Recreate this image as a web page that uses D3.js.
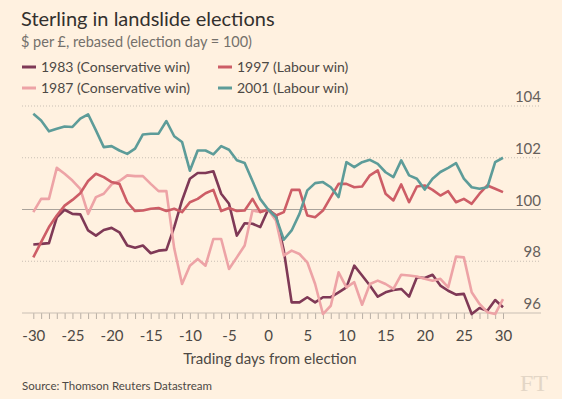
<!DOCTYPE html>
<html>
<head>
<meta charset="utf-8">
<script src="https://cdn.jsdelivr.net/npm/d3@7"></script>
<style>
  html, body { margin: 0; padding: 0; background: #fff1e0; }
  svg { display: block; font-family: Lato, "Open Sans", sans-serif; }
</style>
</head>
<body>
<div id="chart"></div>
<script>
// DATA
const days = d3.range(-30, 31);

const series1983 = [98.65, 98.67, 98.70, 99.70, 99.99, 99.83, 99.81, 99.19, 98.99, 99.21,
  99.29, 99.12, 98.61, 98.52, 98.61, 98.31, 98.41, 98.44, 99.32, 100.35,
  101.19, 101.41, 101.41, 101.48, 100.61, 100.22, 98.99, 99.47, 99.45, 99.32,
  100.00,
  99.77, 98.41, 96.41, 96.41, 96.61, 96.41, 96.61, 96.61, 96.80, 96.99,
  97.83, 97.45, 97.06, 96.63, 96.80, 96.89, 96.93, 96.63, 97.38, 97.35,
  97.48, 97.06, 96.86, 96.71, 96.74, 95.96, 96.19, 96.09, 96.50, 96.22];

const series1987 = [99.90, 100.41, 100.41, 101.61, 101.38, 101.12, 100.80, 99.83, 100.48, 100.61,
  100.97, 101.10, 101.32, 101.29, 101.29, 100.99, 100.71, 100.71, 98.50, 97.12,
  97.83, 98.09, 97.83, 98.86, 98.86, 97.70, 98.15, 98.61, 99.96, 99.90,
  100.00,
  99.57, 98.22, 98.41, 98.28, 97.96, 97.12, 95.96, 96.28, 97.57, 96.99,
  97.19, 96.32, 97.12, 97.25, 97.12, 96.93, 97.48, 97.45, 97.41, 97.32,
  97.25, 97.32, 96.99, 98.18, 98.15, 96.80, 96.35, 96.03, 95.96, 96.54];

const series1997 = [98.15, 98.74, 99.32, 99.77, 100.15, 100.37, 100.63, 101.10, 101.38, 101.25,
  101.06, 100.99, 100.28, 99.94, 99.96, 100.03, 100.06, 99.94, 100.03, 99.90,
  100.28, 100.41, 100.63, 100.76, 99.94, 100.06, 99.94, 99.96, 100.41, 99.90,
  100.00,
  99.77, 99.90, 100.76, 100.76, 99.77, 99.70, 99.96, 100.48, 100.99, 100.99,
  100.86, 100.89, 101.32, 101.51, 100.61, 100.35, 100.97, 100.28, 100.89, 100.93,
  100.76, 100.54, 100.71, 100.28, 100.41, 100.22, 100.61, 100.93, 100.80, 100.67];

const series2001 = [103.70, 103.44, 103.02, 103.12, 103.21, 103.19, 103.51, 103.68, 103.06, 102.41,
  102.45, 102.28, 102.15, 102.35, 102.90, 102.93, 102.93, 103.42, 102.83, 102.61,
  101.50, 102.28, 102.28, 102.13, 102.45, 102.31, 101.90, 101.80, 101.10, 100.40,
  100.00,
  99.70, 98.83, 99.19, 99.83, 100.74, 101.02, 101.06, 100.86, 100.48, 101.83,
  101.64, 101.83, 101.92, 101.76, 101.44, 101.25, 101.90, 101.32, 101.19, 100.77,
  101.19, 101.45, 101.61, 101.79, 101.19, 100.86, 100.80, 100.86, 101.83, 102.00];

const seriesNames = ["1983 (Conservative win)", "1997 (Labour win)", "1987 (Conservative win)", "2001 (Labour win)"];
const yTicks = [96, 98, 100, 102, 104];

// SETUP
const width = 562, height = 399;
const colours = {
  "1983 (Conservative win)": "#7f3956",
  "1987 (Conservative win)": "#eda3a6",
  "1997 (Labour win)": "#cd5d66",
  "2001 (Labour win)": "#5d9c99"
};

const svg = d3.select("#chart")
  .append("svg")
    .attr("width", width)
    .attr("height", height);

svg.append("rect")
  .attr("width", width)
  .attr("height", height)
  .attr("fill", "#fff1e0");

const x = d3.scaleLinear()
  .domain([-30, 30])
  .range([33.3, 503]);

const y = d3.scaleLinear()
  .domain([96, 104])
  .range([313, 106]);

// titles
svg.append("text")
  .attr("x", 21).attr("y", 26)
  .attr("font-size", 20)
  .attr("fill", "#33302e")
  .text("Sterling in landslide elections");

svg.append("text")
  .attr("x", 21).attr("y", 47)
  .attr("font-size", 14.5)
  .attr("fill", "#74706b")
  .text("$ per £, rebased (election day = 100)");

// legend
const legend = svg.append("g");
seriesNames.forEach((name, i) => {
  const lx = i % 2 === 0 ? 22 : 218;
  const ly = i < 2 ? 67 : 88;
  legend.append("line")
    .attr("x1", lx).attr("x2", lx + 14)
    .attr("y1", ly).attr("y2", ly)
    .attr("stroke", colours[name])
    .attr("stroke-width", 3);
  legend.append("text")
    .attr("x", lx + 19).attr("y", ly + 5)
    .attr("font-size", 14)
    .attr("fill", "#4d4945")
    .text(name);
});

// gridlines and y labels
svg.append("g")
  .selectAll("line")
  .data(yTicks.filter(d => d !== 96))
  .join("line")
    .attr("x1", 22).attr("x2", 541)
    .attr("y1", d => y(d)).attr("y2", d => y(d))
    .attr("stroke", d => d === 100 ? "#aaa39b" : "#c9bfb4")
    .attr("stroke-width", 1)
    .attr("stroke-dasharray", d => d === 100 ? null : "1,2");

svg.append("g")
  .selectAll("text")
  .data(yTicks)
  .join("text")
    .attr("x", 541)
    .attr("y", d => y(d) - 4)
    .attr("text-anchor", "end")
    .attr("font-size", 15)
    .attr("fill", "#66605b")
    .text(d => d);

// x axis
const xAxis = svg.append("g")
  .attr("transform", `translate(0, ${y(96)})`)
  .call(d3.axisBottom(x)
    .tickValues(days)
    .tickSize(6)
    .tickSizeOuter(0)
    .tickFormat(d => d % 5 === 0 ? d : ""));

xAxis.select(".domain").remove();
xAxis.selectAll(".tick line").attr("stroke", "#b9afa5");
xAxis.selectAll(".tick text")
  .attr("y", 28)
  .attr("dy", null)
  .attr("font-family", "Lato, 'Open Sans', sans-serif")
  .attr("font-size", 15)
  .attr("fill", "#4d4945");

svg.append("line")
  .attr("x1", 22).attr("x2", 541)
  .attr("y1", y(96)).attr("y2", y(96))
  .attr("stroke", "#c9bfb4");

svg.append("text")
  .attr("x", 270).attr("y", 364)
  .attr("text-anchor", "middle")
  .attr("font-size", 15)
  .attr("fill", "#4d4945")
  .text("Trading days from election");

// lines
const line = d3.line()
  .x((d, i) => x(days[i]))
  .y(d => y(d));

const allSeries = [
  {name: "1983 (Conservative win)", values: series1983},
  {name: "1987 (Conservative win)", values: series1987},
  {name: "1997 (Labour win)", values: series1997},
  {name: "2001 (Labour win)", values: series2001}
];

svg.append("g")
  .selectAll("path")
  .data(allSeries)
  .join("path")
    .attr("d", d => line(d.values))
    .attr("fill", "none")
    .attr("stroke", d => colours[d.name])
    .attr("stroke-width", 2.6)
    .attr("stroke-linejoin", "round");

// source + logo
svg.append("text")
  .attr("x", 22).attr("y", 390)
  .attr("font-size", 11.5)
  .attr("fill", "#4d4945")
  .text("Source: Thomson Reuters Datastream");

svg.append("text")
  .attr("x", 548).attr("y", 391)
  .attr("text-anchor", "end")
  .attr("font-family", "'Liberation Serif', 'DejaVu Serif', serif")
  .attr("font-size", 24)
  .attr("fill", "#e3d6c6")
  .text("FT");
</script>
</body>
</html>
